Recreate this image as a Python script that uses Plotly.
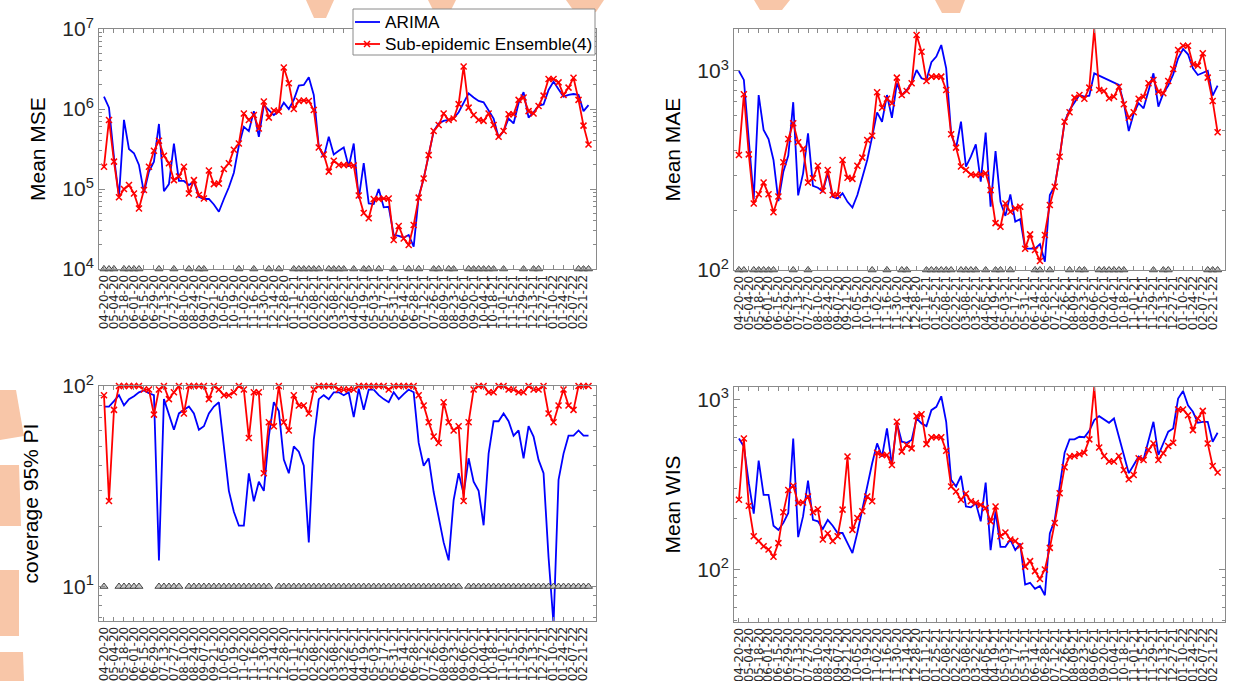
import plotly.graph_objects as go

week_labels = ["04-20-20","05-04-20","05-18-20","06-01-20","06-15-20","06-29-20","07-13-20","07-27-20",
    "08-10-20","08-24-20","09-07-20","09-21-20","10-05-20","10-19-20","11-02-20","11-16-20","11-30-20",
    "12-14-20","12-28-20","01-11-21","01-25-21","02-08-21","02-22-21","03-08-21","03-22-21","04-05-21",
    "04-19-21","05-03-21","05-17-21","05-31-21","06-14-21","06-28-21","07-12-21","07-26-21","08-09-21",
    "08-23-21","09-06-21","09-20-21","10-04-21","10-18-21","11-01-21","11-15-21","11-29-21","12-13-21",
    "12-27-21","01-10-22","01-24-22","02-07-22","02-21-22"]
label_weeks = list(range(0, 97, 2))
series_names = ["ARIMA", "Sub-epidemic Ensemble(4)"]

mse_arima = [1.43e6,1.04e6,2.5e5,8.0e4,7.3e5,3.16e5,2.8e5,2.0e5,9.0e4,1.65e5,2.2e5,6.5e5,9.4e4,1.15e5,3.7e5,1.26e5,
    1.26e5,1.12e5,1.23e5,8.0e4,7.5e4,7.5e4,6.4e4,5.2e4,7.5e4,1.05e5,1.6e5,3.5e5,6.0e5,5.3e5,9.4e5,4.5e5,
    1.12e6,9.7e5,8.4e5,9.4e5,1.2e6,1.0e6,1.3e6,1.96e6,2.0e6,2.5e6,1.5e6,3.4e5,2.5e5,4.5e5,2.7e5,3.0e5,
    3.3e5,1.9e5,3.7e5,7.6e4,2.1e5,6.6e4,6.5e4,1.0e5,5.9e4,6.0e4,2.66e4,2.6e4,2.45e4,2.66e4,1.9e4,8.0e4,
    1.35e5,2.65e5,5.3e5,6.6e5,7.1e5,7.3e5,7.6e5,9.1e5,1.18e6,1.57e6,1.39e6,1.26e6,1.21e6,9.4e5,7.6e5,4.4e5,
    5.3e5,7.6e5,6.6e5,1.18e6,1.62e6,7.8e5,9.1e5,1.1e6,1.14e6,1.73e6,2.2e6,1.76e6,1.43e6,1.5e6,1.54e6,1.5e6,
    9.4e5,1.12e6]
mse_ens = [1.9e5,7.3e5,2.2e5,7.9e4,1.0e5,1.12e5,8.8e4,5.7e4,9.7e4,1.9e5,3.0e5,4.0e5,2.6e5,2.1e5,1.29e5,1.43e5,
    1.9e5,8.8e4,1.29e5,8.4e4,7.6e4,1.7e5,1.15e5,1.17e5,1.78e5,2.1e5,3.1e5,3.7e5,8.8e5,7.3e5,8.4e5,5.7e5,
    1.24e6,7.8e5,9.6e5,9.3e5,3.3e6,2.1e6,1.0e6,1.26e6,1.28e6,1.26e6,9.7e5,3.3e5,2.7e5,1.65e5,2.26e5,2.0e5,
    2.0e5,2.0e5,1.97e5,8.3e4,5.0e4,4.3e4,7.5e4,7.5e4,7.6e4,7.6e4,2.3e4,3.45e4,2.4e4,2.0e4,3.55e4,7.8e4,
    1.35e5,2.65e5,5.3e5,6.3e5,8.8e5,7.3e5,7.6e5,1.15e6,3.4e6,1.04e6,8.4e5,7.3e5,7.1e5,8.8e5,6.3e5,4.5e5,
    5.3e5,8.6e5,8.6e5,1.3e6,1.39e6,9.4e5,8.8e5,1.09e6,1.47e6,2.37e6,2.37e6,2.15e6,1.5e6,1.85e6,2.46e6,1.3e6,
    6.2e5,3.6e5]
mse_marks = [0,1,2,4,5,6,7,11,14,17,19,20,27,30,33,35,38,39,40,41,42,43,45,46,47,48,50,52,53,55,58,61,63,
    66,67,69,70,73,74,75,76,77,78,80,84,86,87,95,96,97]

mae_arima = [1000,902,450,227,757,505,455,357,222,312,376,697,237,306,486,265,259,248,306,233,229,243,220,206,
    238,289,357,468,620,556,757,582,867,757,803,867,1011,919,902,1106,1181,1350,1031,487,409,556,331,371,
    428,278,490,208,396,220,187,240,175,180,128,128,128,135,110,238,264,371,556,637,697,757,743,752,973,
    948,919,902,878,851,689,499,612,689,649,803,973,662,773,844,962,1158,1290,1213,1031,955,981,1004,752,844]
mae_ens = [378,764,381,216,240,275,240,195,234,348,455,546,438,406,275,289,334,250,318,238,238,357,291,287,
    334,367,450,473,782,654,725,689,926,757,794,867,1516,1250,891,937,937,937,803,481,412,331,318,302,
    300,302,306,252,172,165,216,196,204,208,128,151,126,111,150,212,262,371,556,620,735,757,725,825,1626,
    803,794,730,743,834,680,582,620,725,743,867,902,787,773,891,1023,1275,1340,1340,1080,1064,1227,926,707,492]
mae_marks = [0,1,3,4,5,6,7,11,14,27,30,33,34,38,39,40,41,42,43,45,46,47,48,50,52,53,55,60,61,63,67,69,70,
    73,74,75,76,77,78,84,86,87,95,96,97]

cov_arima = [79,79,84,90,80,86,89,93,95,92,90,13.5,86,73,60.5,73,76,79,73,60.5,63,73,79,83,50,30,23.6,20.1,
    20.1,36.7,26.6,33.3,30,56,83,75,43,36.7,50,47,40,16.6,54,86,90,86,93,93,90,93,70,97,76,96,96,90,86,83,
    93,86,91,96,93,52,40,43.6,29.6,22.6,16.6,13.5,27,36.7,29,43.6,33.3,30,20.2,46,66.7,66.7,73,66.7,56.5,
    60,43.6,63,56,42.8,36.7,14,6.5,34,46,56.5,56.5,60,56.5,56.5]
cov_ens = [90,26.7,76,100,100,100,100,100,96,96,72,96,100,86,93,100,73,100,100,100,100,86,100,96,90,90,93,
    100,96,55,93,93,36.7,66,63,100,66,60,90,80,80,73,96,100,100,100,100,96,96,96,96,100,100,100,100,100,
    100,96,100,100,100,100,100,90,80,66,56,52,83,66,60,63,26.7,66,96,100,100,93,93,100,100,96,96,93,93,
    100,96,96,100,73,66,80,96,80,76,100,100,100]
cov_marks = [0] + list(range(3, 8)) + list(range(11, 16)) + list(range(17, 34)) + list(range(35, 72)) + list(range(73, 98))

wis_arima = [590,529,322,213,437,275,275,181,171,188,215,590,155,206,334,196,192,173,196,181,164,164,143,125,
    165,225,322,422,552,462,676,412,730,565,557,578,774,724,698,866,906,1046,740,337,308,355,235,232,246,
    192,325,130,220,136,136,150,130,142,81.6,83.5,77,80,70.5,163,196,301,487,583,583,604,600,655,757,799,
    764,730,774,604,472,369,412,462,445,578,740,472,552,647,676,1014,1124,926,847,730,740,740,565,638]
wis_ens = [257,590,237,157,147,137,131,119,143,217,294,311,246,248,269,217,226,150,163,147,157,225,462,171,
    201,220,269,252,487,472,472,412,740,494,540,516,799,820,547,600,600,600,500,308,288,257,279,252,246,
    240,230,192,235,157,165,150,147,138,104,112,97.8,88,100,134,188,281,400,462,466,477,487,583,1187,523,
    466,432,432,466,385,340,360,451,441,505,552,441,483,533,557,874,874,809,661,774,858,552,407,372]
wis_marks = [0] + list(range(2, 9)) + [11, 14] + list(range(17, 21)) + list(range(25, 29)) + list(range(30, 34)) + \
    [35] + list(range(38, 46)) + [48, 50, 52, 55, 57] + list(range(63, 72)) + list(range(73, 93)) + [95, 96, 97]

FONT = "Liberation Sans, Arial, Helvetica, sans-serif"
WIDE = "DejaVu Sans, Liberation Sans, sans-serif"
BLUE = "#0000FF"
RED = "#FF0000"
AXC = "#8a8a8a"
WATERMARK = "#F8C6A8"

# figure fills the whole window (body margin removed in post_script)
W, H = 1233, 681
def px(x):
    return x / W
def py(y):
    return 1 - y / H

panels = [
    dict(arima=mse_arima, ens=mse_ens, marks=mse_marks, yr=[4, 7], decades=[4, 5, 6, 7], mark_y=1e4,
         title="Mean MSE", box=(99, 596, 29, 269), tx=38),
    dict(arima=mae_arima, ens=mae_ens, marks=mae_marks, yr=[2, 3.211], decades=[2, 3], mark_y=1e2,
         title="Mean MAE", box=(734, 1225, 29, 270), tx=672),
    dict(arima=cov_arima, ens=cov_ens, marks=cov_marks, yr=[0.828, 2], decades=[1, 2], mark_y=10,
         title="coverage 95% PI", box=(99, 596, 386, 621), tx=30),
    dict(arima=wis_arima, ens=wis_ens, marks=wis_marks, yr=[1.691, 3.074], decades=[2, 3], mark_y=10**1.691,
         title="Mean WIS", box=(734, 1225, 387, 622), tx=672),
]

fig = go.Figure()
layout = dict(width=W, height=H, margin=dict(l=0, r=0, t=0, b=0, autoexpand=False), showlegend=False,
              hovermode=False,
              paper_bgcolor="white", plot_bgcolor="white", font=dict(family=FONT, color="#262626"))
annotations = []
shapes = []

# faint orange watermark fragments at the page edges (image pixels)
wm_polys = [
    [(306, 0), (334, 0), (326, 18), (314, 18)],
    [(428, 0), (456, 0), (448, 16), (436, 16)],
    [(566, 0), (604, 0), (596, 12), (576, 14)],
    [(754, 0), (790, 0), (782, 10), (760, 10)],
    [(935, 0), (965, 0), (960, 13), (942, 13)],
    [(0, 390), (16, 390), (24, 436), (0, 440)],
    [(0, 465), (19, 465), (21, 526), (0, 526)],
    [(0, 570), (19, 570), (19, 636), (0, 636)],
    [(0, 652), (23, 652), (24, 681), (0, 681)],
]
for poly in wm_polys:
    path = "M " + " L ".join(f"{px(x):.5f},{py(y):.5f}" for x, y in poly) + " Z"
    shapes.append(dict(type="path", path=path, xref="paper", yref="paper", fillcolor=WATERMARK,
                       line=dict(width=0), layer="below"))

for i, p in enumerate(panels):
    n = i + 1
    xa = "x" if n == 1 else f"x{n}"
    ya = "y" if n == 1 else f"y{n}"
    x0, x1, y0, y1 = p["box"]
    weeks = list(range(len(p["arima"])))
    fig.add_trace(go.Scatter(x=weeks, y=p["arima"], mode="lines", line=dict(color=BLUE, width=1.8),
                             name=series_names[0], xaxis=xa, yaxis=ya))
    fig.add_trace(go.Scatter(x=weeks, y=p["ens"], mode="lines+markers", line=dict(color=RED, width=1.8),
                             marker=dict(symbol="x-thin", size=6, line=dict(color=RED, width=1.5)),
                             name=series_names[1], cliponaxis=False, xaxis=xa, yaxis=ya))
    fig.add_trace(go.Scatter(x=p["marks"], y=[p["mark_y"]] * len(p["marks"]), mode="markers",
                             marker=dict(symbol="triangle-up", size=7, color="#c8c8c8",
                                         line=dict(width=1, color="#444444")),
                             cliponaxis=False, xaxis=xa, yaxis=ya, hoverinfo="skip"))
    key = "" if n == 1 else str(n)
    layout["xaxis" + key] = dict(domain=[px(x0), px(x1)], anchor=ya, range=[-1, 98.5], tickmode="array",
                                 tickvals=label_weeks, ticktext=week_labels, tickangle=-90,
                                 tickfont=dict(size=12, family=WIDE, color="#262626"),
                                 showline=True, linecolor=AXC, linewidth=1, mirror="ticks",
                                 ticks="inside", ticklen=4, tickcolor=AXC, showgrid=False, zeroline=False)
    layout["yaxis" + key] = dict(domain=[py(y1), py(y0)], anchor=xa, type="log", range=p["yr"],
                                 tickmode="array", tickvals=[10 ** d for d in p["decades"]],
                                 ticktext=[f"10<sup>{d}</sup>" for d in p["decades"]],
                                 tickfont=dict(size=21, family=FONT, color="#262626"),
                                 showline=True, linecolor=AXC, linewidth=1, mirror="allticks",
                                 ticks="inside", ticklen=6, tickcolor=AXC, showgrid=False, zeroline=False,
                                 minor=dict(ticks="inside", ticklen=3, tickcolor=AXC, showgrid=False,
                                            tickvals=[m * 10 ** d for d in range(0, 8) for m in range(2, 10)]))
    annotations.append(dict(text=p["title"], x=px(p["tx"]), y=(py(y0) + py(y1)) / 2,
                            xref="paper", yref="paper", showarrow=False, textangle=-90,
                            font=dict(size=21, family=FONT, color="black"), xanchor="center", yanchor="middle"))

# legend box drawn by hand (MATLAB style: short line sample)
LX0, LX1, LY0, LY1 = 353, 595, 9, 55
shapes.append(dict(type="rect", xref="paper", yref="paper", x0=px(LX0), x1=px(LX1), y0=py(LY1), y1=py(LY0),
                   fillcolor="white", line=dict(color=AXC, width=1), layer="above"))
rows = [(series_names[0], BLUE, 22, False), (series_names[1], RED, 44, True)]
for name, col, yy, mark in rows:
    shapes.append(dict(type="line", xref="paper", yref="paper", x0=px(355), x1=px(380), y0=py(yy), y1=py(yy),
                       line=dict(color=col, width=1.8), layer="above"))
    if mark:
        for dx, dy in [(-3, -3), (-3, 3)]:
            shapes.append(dict(type="line", xref="paper", yref="paper", x0=px(367 + dx), x1=px(367 - dx),
                               y0=py(yy + dy), y1=py(yy - dy), line=dict(color=col, width=1.5), layer="above"))
    annotations.append(dict(text=name, x=px(383), y=py(yy), xref="paper", yref="paper", showarrow=False,
                            xanchor="left", yanchor="middle", font=dict(size=17.2, family=FONT, color="black")))

layout["annotations"] = annotations
layout["shapes"] = shapes
fig.update_layout(**layout)
fig.write_html("out.html", config={"displayModeBar": False, "staticPlot": True},
               post_script="document.body.style.margin='0px';document.body.style.overflow='hidden';")
